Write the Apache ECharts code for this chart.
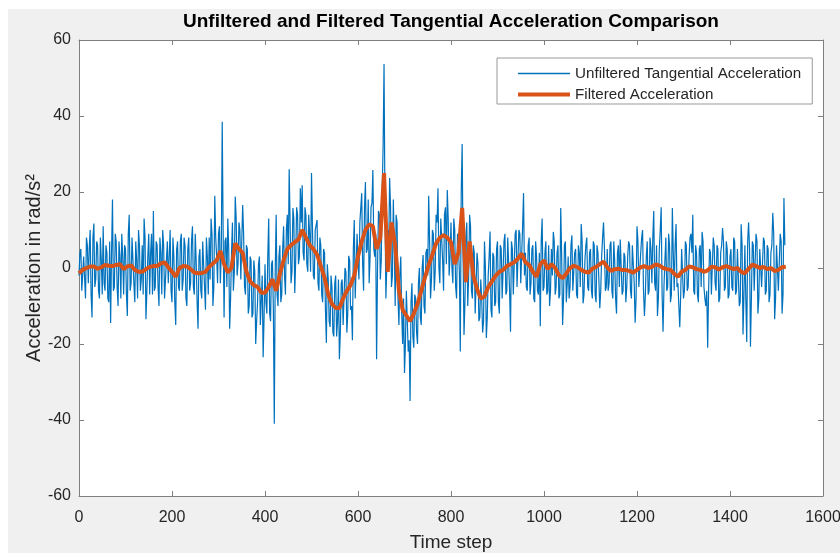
<!DOCTYPE html>
<html><head><meta charset="utf-8">
<script src="https://cdn.jsdelivr.net/npm/echarts@6/dist/echarts.min.js"></script>
<style>
html,body{margin:0;padding:0;background:#ffffff;}
#c{position:absolute;left:8px;top:9px;width:832px;height:544px;}
</style>
</head><body><div id="c"></div>
<script>
// ---------- DATA ----------
const titleText = 'Unfiltered and Filtered Tangential Acceleration Comparison';
const xName = 'Time step';
const yName = 'Acceleration in rad/s²';
const seriesNames = ['Unfiltered Tangential Acceleration', 'Filtered Acceleration'];
const xTicks = {min: 0, max: 1600, interval: 200};
const yTicks = {min: -60, max: 60, interval: 20};

const RAW_STEP = 4;   // time steps between samples inside each raw array
const RAW_HALF = 2;   // offset of the in-between ("mid") samples
const FILT_STEP = 8;  // time steps between filtered samples

// Unfiltered acceleration, segments of 160 time steps (samples at start + 4i)
const raw0000 = [-2,5,-6,3,8,-4,10,-13,11.7,-3,6,-8,2,11,-6,4,-9,-14.5,18,-5,7,-10,3,9,-7,5,-12.6,14,-4,8,-9,2,10,-6,6,13,-13.5,3,-7,9];
const raw0160 = [15,-5,6,-10,4,10,-8,2,-4,10,-9,3,-15,7,-6,9,-3,6,-10,8,-4,11,-7,2,-16,5,-8,7,-11,3,8,13,-10,19,3,9,-4,38.5,-13,8];
const raw0320 = [13,-16,4,-6,18.8,-2,12,-3,16.6,-5,6,-12,3,-13,2,-20,-9,3,-15,-23.5,1,-12,13,-14,2,-41,14,-10,6,-7,11,-7,14,26,-4,15.8,-6.6,16,1,21];
const raw0480 = [21.8,2,14,-1,9,25,-2,10,12.6,-6,6,-9,4,-19.7,-3,-15.5,-5,-18,-2,-14,-24,-4,-15,0,-17,3.2,-11,-19,12.6,-8,2,12,19.7,-6,22.6,5,-4,16,25.8,3];
const raw0640 = [-24,15,-3,20,53.7,-8,10,23.7,-5,18,-10,12,-15,3,-20,-27.6,-6,-22,-35,-4,-21,-8,-20,0,-15,3.4,-12,5,19,-8,10,-6,14,21,-4,13,-6,16,20.5,-2];
const raw0800 = [12,-4,10,-8,6,-22,32.6,-17.6,8,-10,14,-6,6,-12,4,-14,-3,-17,7,-18.4,-2,9.6,-13,3,-9,7,-12,5,-8,9,-6,8,-16.8,5,-7,10,-5,9,-4,19.7];
const raw0960 = [4,-6,8,-4,6,-9,3,-7,-15.3,13,-5,7,-6,-10,5,9.5,-7,4,-8,15.8,-15,6,-9,3,-5,8.6,-6,5,-8,4,11.6,-9.3,2,8,-6,5,-8,6,-9,4];
const raw1120 = [-10.6,3,12,-6,5,-4,7,-8,2,-12,6,7.5,-7,4,-9,3,6,-8,6,-14.4,11,-5,4,10,-12.6,3,-7,8,-4,15,-6,-12.6,5,16,-16.8,2,-6,9,-9,15.8];
const raw1280 = [-6,11.6,-4,-15.6,5,-8,7,-6,3,9,14,-7,4,-9,6,9.5,-5,-10,-21,5,-7,8,-4,6,-9,4,10.5,-6,7,-8,3,-5,8,-7,5,-10,11.5,-17.5,6,-19.5];
const raw1440 = [12,-20.7,7,-6,9,-12,5,-5,8,-7,6,-9,4,14.5,-13.5,6,-6,9,-12,18.4];

// Unfiltered acceleration, in-between samples (start + 2 + 4i)
const mid0000 = [4,-6,3,-8,6,5,-7,8,-5,7,-6,8,-7,-4,6,-8,7,4,-6,9,-5,7,-8,3,6,-7,9,-6,8,-4,7,-8,6,-3,-7,8,-6,9,4,-7];
const mid0160 = [-6,7,-5,8,-7,6,-8,7,3,-6,8,-9,5,-5,7,-6,8,-8,5,-6,7,-5,9,-9,3,-6,7,-5,8,-7,-3,9,-5,8,-4,11,4,9,7,-5];
const mid0320 = [5,-8,12,-1,13,1,10,-3,9,-7,5,-10,2,-12,-1,-14,1,-15,-2,-13,-9,3,-12,1,-11,-1,-7,3,-9,5,-2,10,1,12,-1,13,2,14,3,12];
const mid0480 = [4,16,1,14,-1,11,-3,10,-4,8,-7,5,-11,1,-14,-2,-17,-4,-18,-3,-17,-3,-15,-1,-12,2,-10,5,-8,9,-3,12,1,16,4,18,3,17,5,9];
const mid0640 = [0,14,2,32,16,-8,4,16,-2,6,14,-8,-2,-12,-8,-20,-6,-19,-9,-18,-7,-17,-4,-13,0,-10,4,-2,7,-3,9,-1,12,0,13,2,14,1,13,3];
const mid0800 = [0,13,-5,9,-1,20,3,-9,12,-2,11,-8,4,-12,1,-13,-8,-14,0,-13,3,-11,4,-10,5,-9,6,-8,7,-7,8,-6,7,-7,9,-5,10,-4,11,-2];
const mid0960 = [-5,6,-7,5,-8,7,-6,4,7,-6,4,-7,6,-6,-2,7,-5,6,-7,3,-8,7,-4,-8,6,-6,4,-7,6,-5,7,-7,6,-5,4,-6,7,-7,6,-3];
const mid1120 = [-6,8,5,-5,-6,6,-6,7,-8,4,-5,7,-6,3,-5,7,-6,6,-4,-8,7,-5,8,-6,-7,7,-6,5,8,-4,6,-8,10,-7,-5,8,-5,6,-7,4];
const mid1280 = [6,-5,-10,-7,5,-6,6,-5,8,4,-6,6,-7,5,-5,7,-8,-6,-6,4,-7,6,-6,5,-8,6,7,-5,5,-7,5,-6,7,-6,5,-9,6,-7,-8,7];
const mid1440 = [5,-8,6,-6,7,-8,5,-5,7,-6,5,-7,6,9,-8,6,-6,7,-7,6];

// Filtered acceleration, segments of 160 time steps (samples at start + 8i)
const filt0000 = [-1.4,-0.5,0,0.4,0.4,-0.2,0.2,0.8,0.6,0.5,0.8,1,-0.3,0.4,0.7,-0.5,-1,-1,-0.3,0.3];
const filt0160 = [0.5,0.5,1.2,1.5,0.2,-1,-2.3,0,0.5,0.4,-0.3,-1.2,-1.4,-1.3,-1,0.3,1.2,2,4.5,1];
const filt0320 = [-1.2,0,6.5,5,4,-1,-3.5,-4.5,-5,-6.5,-6.5,-5,-3,-6,-1.5,2,5,6,6.8,7.5];
const filt0480 = [10,8,6,5,3.5,0.5,-2.5,-7,-9.5,-10.5,-10.5,-8,-6,-4.5,-2,3,7,10,11.5,11];
const filt0640 = [5,8,25,-1,12,6,-6,-11,-12.5,-14,-12,-9.5,-6,-2.5,0.8,3.5,6.5,8,8.6,8];
const filt0800 = [6.8,1,4,15.8,-3.7,7,-2,-5.5,-8,-7.5,-5,-3.5,-2,-1,-0.5,0.5,1,1.5,2.5,3.8];
const filt0960 = [1.5,0.8,-1,-2.3,1,2,-0.3,1,0,-1.9,-2.7,-1.5,0,0.6,0.2,-0.5,-1,-1.2,-0.2,0.3];
const filt1120 = [1,1.7,0.2,-0.8,-0.3,-0.2,-0.5,-0.5,-0.8,-1.2,-0.5,0.2,0.5,0,0.3,0.9,0.7,0,-0.3,-0.5];
const filt1280 = [-1.5,-2.3,-1,-0.5,0.4,0.2,-0.3,-0.5,-1,-0.6,0.3,0.2,-0.4,0.2,0.5,0.1,-0.3,0,-1,-1.4];
const filt1440 = [-0.2,0.9,0.5,0,0.3,-0.3,0,-0.8,-0.5,0.2,0.3];

const segStarts = [0,160,320,480,640,800,960,1120,1280,1440];
const rawArrays = [raw0000,raw0160,raw0320,raw0480,raw0640,raw0800,raw0960,raw1120,raw1280,raw1440];
const midArrays = [mid0000,mid0160,mid0320,mid0480,mid0640,mid0800,mid0960,mid1120,mid1280,mid1440];
const filtArrays = [filt0000,filt0160,filt0320,filt0480,filt0640,filt0800,filt0960,filt1120,filt1280,filt1440];

const rawData = [];
segStarts.forEach((s, k) => {
  rawArrays[k].forEach((v, i) => {
    rawData.push([s + i * RAW_STEP, v]);
    if (i < midArrays[k].length) rawData.push([s + i * RAW_STEP + RAW_HALF, midArrays[k][i]]);
  });
});
const filtData = [];
segStarts.forEach((s, k) => filtArrays[k].forEach((v, i) => filtData.push([s + i * FILT_STEP, v])));

// ---------- CHART ----------
const FONT = '"Liberation Sans", Arial, Helvetica, sans-serif';
const AX = '#7f7f7f';
const TXT = '#262626';
const chart = echarts.init(document.getElementById('c'), null, {renderer: 'canvas'});

function axisCommon(extra) {
  return Object.assign({
    type: 'value',
    axisLine: {show: true, onZero: false, lineStyle: {color: AX, width: 1}},
    axisTick: {show: true, inside: true, length: 5, lineStyle: {color: AX}},
    splitLine: {show: false}
  }, extra);
}

chart.setOption({
  animation: false,
  backgroundColor: '#f0f0f0',
  textStyle: {fontFamily: FONT},
  graphic: [{
    type: 'text', x: 443, y: 3,
    style: {text: titleText, font: 'bold 19px ' + FONT, fill: '#000', align: 'center', verticalAlign: 'top'}
  }],
  grid: {left: 71, top: 31, right: 17, bottom: 57, show: true, backgroundColor: '#ffffff', borderWidth: 0,
         containLabel: false, outerBoundsMode: 'none'},
  legend: {
    orient: 'vertical', left: 489, top: 49,
    backgroundColor: '#ffffff', borderColor: '#999999', borderWidth: 1, borderRadius: 0,
    padding: [8, 11, 2, 19], itemGap: 6, itemWidth: 52, itemHeight: 14,
    itemStyle: {opacity: 0},
    textStyle: {fontSize: 15.2, color: TXT, fontFamily: FONT},
    data: [
      {name: seriesNames[0], lineStyle: {width: 1.5, color: '#0072BD'}},
      {name: seriesNames[1], lineStyle: {width: 4, color: '#D95319'}}
    ]
  },
  xAxis: [
    axisCommon({min: xTicks.min, max: xTicks.max, interval: xTicks.interval, position: 'bottom',
      name: xName, nameLocation: 'middle', nameGap: 37, nameMoveOverlap: false,
      nameTextStyle: {fontSize: 19, color: TXT, fontFamily: FONT},
      axisLabel: {fontSize: 16, color: TXT, margin: 14, fontFamily: FONT, formatter: v => String(v)}}),
    axisCommon({min: xTicks.min, max: xTicks.max, interval: xTicks.interval, position: 'top', axisLabel: {show: false}})
  ],
  yAxis: [
    axisCommon({min: yTicks.min, max: yTicks.max, interval: yTicks.interval, position: 'left',
      name: yName, nameLocation: 'middle', nameGap: 35, nameRotate: 90, nameMoveOverlap: false,
      nameTextStyle: {fontSize: 20, color: TXT, fontFamily: FONT},
      axisLabel: {fontSize: 16, color: TXT, margin: 8, fontFamily: FONT,
                  padding: [4, 0, 0, 0], backgroundColor: 'rgba(0,0,0,0)',
                  formatter: v => String(v)}}),
    axisCommon({min: yTicks.min, max: yTicks.max, interval: yTicks.interval, position: 'right', axisLabel: {show: false}})
  ],
  series: [
    {name: seriesNames[0], type: 'line', data: rawData, symbol: 'none', sampling: 'none',
     lineStyle: {color: '#0072BD', width: 1.2}, itemStyle: {color: '#0072BD'}, z: 2},
    {name: seriesNames[1], type: 'line', data: filtData, symbol: 'none',
     lineStyle: {color: '#D95319', width: 4}, itemStyle: {color: '#D95319'}, z: 3}
  ]
});
</script>
</body></html>
